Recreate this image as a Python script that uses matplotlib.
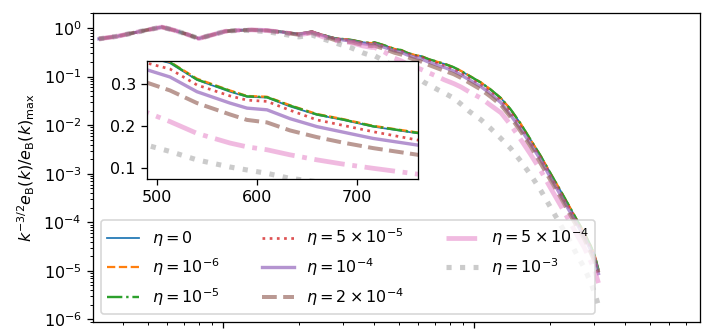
import matplotlib
matplotlib.use("Agg")
import matplotlib.pyplot as plt
import numpy as np

# wavenumbers (shared by all runs)
k = [32, 38, 44, 50, 57, 64, 72, 80, 90, 102, 115, 130, 150, 171, 200, 226, 250, 278,
     325, 360, 390, 401, 440, 482, 513, 540, 573, 590, 610, 633, 660, 686, 716, 761,
     830, 888, 960, 1066, 1160, 1280, 1400, 1537, 1680, 1845, 2020, 2214, 2400, 2586,
     2750, 2912, 3030, 3130]

# normalised compensated spectra, one list per resistivity
eb_0 = [0.60, 0.68, 0.80, 0.92, 1.05, 0.90, 0.74, 0.61, 0.72, 0.86, 0.90, 0.92, 0.90, 0.84,
        0.76, 0.85, 0.72, 0.62, 0.57, 0.51, 0.49, 0.51, 0.44, 0.37, 0.350, 0.310, 0.282,
        0.270, 0.268, 0.247, 0.227, 0.215, 0.199, 0.183, 0.155, 0.130, 0.103, 0.075, 0.055,
        0.036, 0.021, 0.0105, 0.0050, 0.0023, 0.0010, 0.00044, 0.00021, 0.000105, 0.00006,
        0.000033, 0.00002, 0.0000105]
eb_1e6 = [0.60, 0.68, 0.80, 0.92, 1.05, 0.90, 0.74, 0.61, 0.72, 0.86, 0.90, 0.92, 0.90, 0.84,
          0.76, 0.85, 0.72, 0.62, 0.57, 0.51, 0.49, 0.51, 0.44, 0.372, 0.353, 0.313, 0.285,
          0.272, 0.270, 0.250, 0.229, 0.217, 0.201, 0.185, 0.156, 0.131, 0.104, 0.076, 0.055,
          0.036, 0.021, 0.0105, 0.0050, 0.0023, 0.0010, 0.00044, 0.00021, 0.000105, 0.00006,
          0.000033, 0.00002, 0.0000105]
eb_1e5 = [0.60, 0.68, 0.80, 0.92, 1.05, 0.90, 0.74, 0.61, 0.72, 0.86, 0.90, 0.92, 0.90, 0.84,
          0.76, 0.85, 0.72, 0.62, 0.57, 0.51, 0.49, 0.51, 0.44, 0.371, 0.352, 0.311, 0.284,
          0.271, 0.269, 0.249, 0.228, 0.216, 0.200, 0.184, 0.156, 0.130, 0.103, 0.075, 0.055,
          0.036, 0.021, 0.0105, 0.0050, 0.0023, 0.0010, 0.00044, 0.00021, 0.000105, 0.00006,
          0.000033, 0.00002, 0.0000105]
eb_5e5 = [0.60, 0.68, 0.80, 0.92, 1.05, 0.90, 0.74, 0.61, 0.72, 0.86, 0.90, 0.92, 0.90, 0.84,
          0.75, 0.84, 0.71, 0.61, 0.555, 0.495, 0.475, 0.49, 0.42, 0.355, 0.336, 0.298, 0.272,
          0.262, 0.259, 0.238, 0.215, 0.202, 0.187, 0.167, 0.140, 0.117, 0.092, 0.067, 0.049,
          0.032, 0.018, 0.0092, 0.0045, 0.0021, 0.0009, 0.0004, 0.00019, 0.000095, 0.000054,
          0.00003, 0.000018, 0.0000095]
eb_1e4 = [0.60, 0.68, 0.80, 0.92, 1.05, 0.90, 0.74, 0.61, 0.72, 0.86, 0.90, 0.92, 0.90, 0.83,
          0.745, 0.83, 0.70, 0.60, 0.54, 0.48, 0.455, 0.47, 0.40, 0.34, 0.317, 0.282, 0.255,
          0.243, 0.239, 0.218, 0.199, 0.186, 0.171, 0.155, 0.130, 0.108, 0.085, 0.062, 0.045,
          0.029, 0.016, 0.0082, 0.0041, 0.0019, 0.00082, 0.00036, 0.00017, 0.000087, 0.00005,
          0.000027, 0.000017, 0.0000088]
eb_2e4 = [0.60, 0.68, 0.80, 0.92, 1.05, 0.90, 0.74, 0.61, 0.72, 0.86, 0.90, 0.92, 0.89, 0.82,
          0.73, 0.81, 0.68, 0.57, 0.51, 0.45, 0.425, 0.435, 0.37, 0.31, 0.285, 0.255, 0.228,
          0.215, 0.209, 0.190, 0.174, 0.161, 0.148, 0.132, 0.112, 0.094, 0.074, 0.054, 0.039,
          0.026, 0.0145, 0.0073, 0.0036, 0.0016, 0.00072, 0.00032, 0.00015, 0.000077, 0.000044,
          0.000024, 0.000015, 0.0000092]
eb_5e4 = [0.60, 0.68, 0.80, 0.92, 1.05, 0.90, 0.74, 0.61, 0.72, 0.86, 0.90, 0.92, 0.89, 0.82,
          0.73, 0.80, 0.66, 0.56, 0.50, 0.43, 0.40, 0.40, 0.32, 0.24, 0.211, 0.183, 0.160,
          0.151, 0.144, 0.132, 0.120, 0.110, 0.100, 0.086, 0.072, 0.061, 0.048, 0.036, 0.026,
          0.018, 0.0101, 0.005, 0.0025, 0.00115, 0.0005, 0.00022, 0.000105, 0.000052, 0.00003,
          0.000016, 0.0000098, 0.0000056]
eb_1e3 = [0.60, 0.68, 0.80, 0.92, 1.05, 0.90, 0.74, 0.61, 0.72, 0.86, 0.90, 0.89, 0.84, 0.76,
          0.66, 0.72, 0.60, 0.50, 0.39, 0.31, 0.27, 0.27, 0.21, 0.16, 0.140, 0.120, 0.103,
          0.096, 0.088, 0.076, 0.068, 0.061, 0.054, 0.046, 0.036, 0.027, 0.019, 0.0129, 0.0087,
          0.0053, 0.0033, 0.0018, 0.00095, 0.00045, 0.0002, 0.000088, 0.000042, 0.00002,
          0.0000115, 0.0000058, 0.0000034, 0.0000019]

labels = [r'$\eta=0$', r'$\eta=10^{-6}$', r'$\eta=10^{-5}$', r'$\eta=5\times10^{-5}$',
          r'$\eta=10^{-4}$', r'$\eta=2\times10^{-4}$', r'$\eta=5\times10^{-4}$', r'$\eta=10^{-3}$']
series = [eb_0, eb_1e6, eb_1e5, eb_5e5, eb_1e4, eb_2e4, eb_5e4, eb_1e3]
colors = ['C0', 'C1', 'C2', 'C3', 'C4', 'C5', 'C6', 'C7']
styles = ['-', '--', '-.', ':', '-', '--', '-.', ':']
widths = [1.1, 1.4, 1.5, 1.7, 2.1, 2.5, 3.0, 3.2]
alphas = [1, 1, 1, 0.8, 0.7, 0.6, 0.5, 0.4]

fig = plt.figure(figsize=(718/115, 331/115), dpi=115)
ax = fig.add_axes([0.1295, 0.027, 0.8455, 0.9335])
ins = fig.add_axes([0.2047, 0.4592, 0.3774, 0.3565])

for y, c, ls, lw, a, lab in zip(series, colors, styles, widths, alphas, labels):
    ax.plot(k, y, color=c, ls=ls, lw=lw, alpha=a, label=lab)
    ins.plot(k, y, color=c, ls=ls, lw=lw, alpha=a)

ax.set_xscale('log')
ax.set_yscale('log')
ax.set_xlim(30.3, 7950)
ax.set_ylim(8.8e-7, 2.04)
ax.tick_params(labelbottom=False)
ax.set_ylabel(r'$k^{-3/2}e_\mathrm{B}(k)/e_\mathrm{B}(k)_\mathrm{max}$')
ax.legend(ncol=3, loc='lower left', columnspacing=2.6)

ins.set_xlim(490, 761)
ins.set_ylim(0.0745, 0.355)
ins.set_xticks([500, 600, 700])
ins.set_yticks([0.1, 0.2, 0.3])

fig.savefig('out.png', dpi=115)
